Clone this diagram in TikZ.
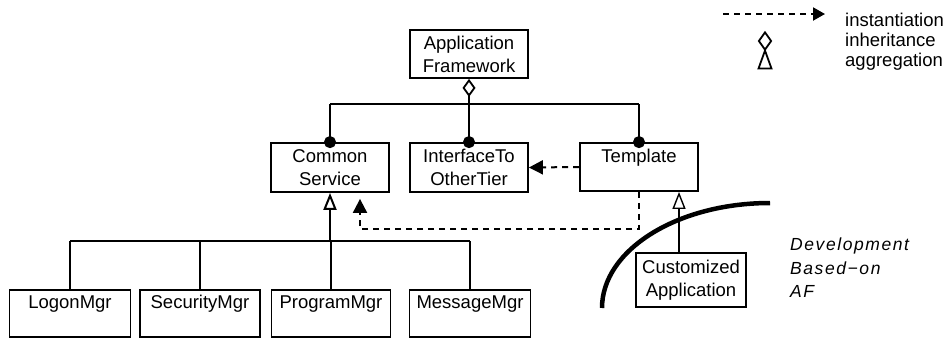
\documentclass[tikz,border=0pt]{standalone}
\usepackage{fontspec}
\setmainfont{Liberation Sans}
\newfontfamily\devfont[LetterSpace=9]{Liberation Sans}
\usetikzlibrary{arrows.meta, shapes.geometric}
\tikzstyle{box} = [draw, line width=1.8pt, rectangle, align=center, minimum width=118pt, minimum height=48pt, inner sep=0pt]
\tikzstyle{line} = [line width=2pt]
\tikzstyle{member} = [line width=2pt, -{Circle[length=12pt]}, shorten >=-6pt]
\tikzstyle{aggr} = [line width=1.8pt, {Diamond[open, length=18pt, width=13pt]}-]
\tikzstyle{inherit} = [line width=2pt, -{Triangle[open, length=17pt, width=13pt]}]
\tikzstyle{inst} = [line width=2pt, dash pattern=on 6pt off 5pt, -{Triangle[length=14pt, width=14pt]}]

\begin{document}
\begin{tikzpicture}[x=1pt, y=-1pt, font=\fontsize{18.5}{23}\selectfont]
    \useasboundingbox (0,0) rectangle (947,338);

    % classes
    \node[box] (AF) at (469,54) {Application\\Framework};
    \node[box, minimum height=49pt] (CS) at (330,167.5) {Common\\Service};
    \node[box, minimum height=49pt] (IT) at (469,167.5) {InterfaceTo\\OtherTier};
    \node[box] (TP) at (639,167) {Template\\ \mbox{}};
    \node[box, minimum width=121pt, minimum height=47pt] (LM) at (70,313.5) {LogonMgr\\ \mbox{}};
    \node[box, minimum width=120pt, minimum height=47pt] (SM) at (200,313.5) {SecurityMgr\\ \mbox{}};
    \node[box, minimum width=119pt, minimum height=47pt] (PM) at (331,313.5) {ProgramMgr\\ \mbox{}};
    \node[box, minimum width=121pt, minimum height=47pt] (MM) at (470,313.5) {MessageMgr\\ \mbox{}};
    \node[box, minimum width=110pt, minimum height=54pt] (CA) at (691,280) {Customized\\Application};

    % aggregation / inheritance trees
    \coordinate (top) at (469,104);
    \coordinate (bot) at (330,241);
    \draw[aggr] (AF.south) -- (top);
    \draw[line] (top -| CS.north) -- (top -| TP.north);
    \foreach \n in {CS, IT, TP}
        \draw[member] (top -| \n.north) -- (\n.north);
    \draw[inherit] (bot) -- (CS.south);
    \draw[line] (bot -| LM.north) -- (bot -| MM.north);
    \foreach \n in {LM, SM, PM, MM}
        \draw[line] (bot -| \n.north) -- (\n.north);
    \draw[inherit, line width=1.4pt] ([xshift=-12pt]CA.north) -- ([xshift=-12pt]CA.north |- TP.south);

    % instantiation
    \coordinate (bend) at (360,229);
    \draw[inst] (TP.west) -- (IT.east);
    \draw[inst, shorten >=6pt] (TP.south) |- (bend) -- (bend |- CS.south);

    % development boundary
    \draw[line width=4.5pt] (602,308) arc[start angle=180, end angle=90, x radius=168pt, y radius=105pt];
    \node[align=left, anchor=north west, inner sep=0pt, font=\devfont\fontsize{17.5}{23.5}\selectfont\itshape] (dev) at (790,238) {Development\\Based−on\\AF};

    % legend
    \coordinate (legS) at (723,14);
    \coordinate (legE) at (825,14);
    \draw[inst, -{Triangle[length=12pt, width=13pt]}] (legS) -- (legE);
    \node[draw, diamond, line width=1.8pt, minimum width=13pt, minimum height=18pt, inner sep=0pt] (legD) at (765,41) {};
    \node[draw, isosceles triangle, isosceles triangle stretches, shape border rotate=90, line width=1.8pt, minimum width=13pt, minimum height=18pt, inner sep=0pt] (legT) at (765,64) {};
    \node[anchor=base west, inner sep=0pt] (legI) at (845,26) {instantiation};
    \node[anchor=base west, inner sep=0pt] (legH) at (845,46) {inheritance};
    \node[anchor=base west, inner sep=0pt] (legA) at (845,66) {aggregation};
\end{tikzpicture}
\end{document}
